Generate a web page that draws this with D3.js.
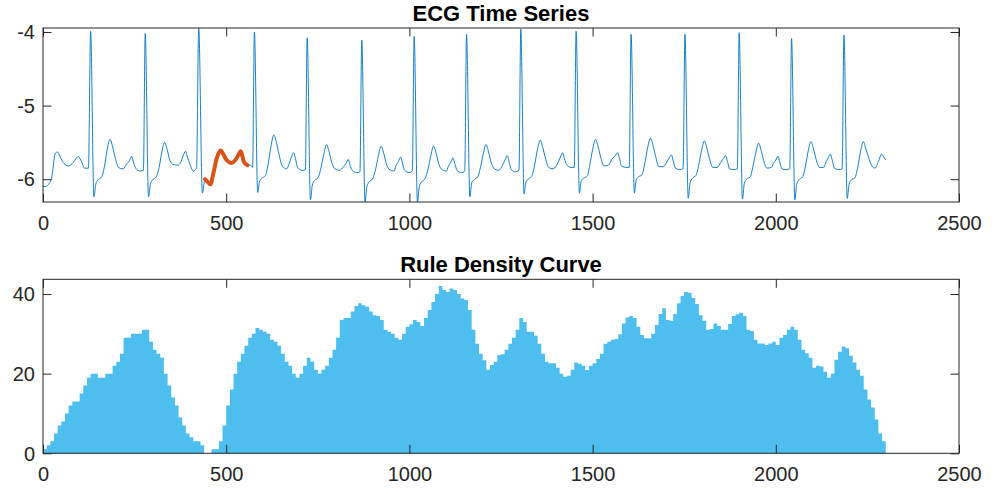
<!DOCTYPE html>
<html>
<head>
<meta charset="utf-8">
<script src="https://cdn.jsdelivr.net/npm/d3@7"></script>
<style>
body { margin: 0; background: #fff; }
svg text { font-family: "Liberation Sans", Arial, Helvetica, sans-serif; }
</style>
</head>
<body>
<div id="chart"></div>
<script>
// ECG knots (sample index, value)
var ecgX = [
    0, 8, 15, 24, 33, 39, 45, 51, 60, 69, 83, 90, 96, 101, 106, 113, 124,
    130, 139, 144, 150, 160, 168, 175, 183, 190, 197, 206, 218, 229, 236, 242, 247, 253, 265, 274,
    279, 288, 293, 299, 309, 317, 324, 332, 339, 346, 355, 367, 375, 382, 389, 394, 400, 410, 419,
    425, 435, 442, 450, 457, 465, 474, 485, 493, 501, 515, 528, 540, 548, 558, 567, 572,
    577, 586, 591, 597, 607, 615, 622, 630, 637, 644, 653, 665, 671, 678, 684, 689, 695, 707, 716,
    721, 730, 735, 741, 751, 759, 766, 774, 781, 788, 797, 809, 820, 827, 833, 838, 844, 856, 865,
    870, 879, 884, 890, 900, 908, 915, 923, 930, 937, 946, 958, 963, 970, 976, 981, 987, 999, 1008,
    1013, 1022, 1027, 1033, 1043, 1051, 1058, 1066, 1073, 1080, 1089, 1101, 1106, 1113, 1119, 1124, 1130, 1142, 1151,
    1156, 1165, 1170, 1176, 1186, 1194, 1201, 1209, 1216, 1223, 1232, 1244, 1254, 1261, 1267, 1272, 1278, 1290, 1299,
    1304, 1313, 1318, 1324, 1334, 1342, 1349, 1357, 1364, 1371, 1380, 1392, 1405, 1412, 1418, 1423, 1429, 1441, 1450,
    1455, 1464, 1469, 1475, 1485, 1493, 1500, 1508, 1515, 1522, 1531, 1543, 1555, 1562, 1568, 1573, 1579, 1591, 1600,
    1605, 1614, 1619, 1625, 1635, 1643, 1650, 1658, 1665, 1672, 1681, 1693, 1702, 1709, 1715, 1720, 1726, 1738, 1747,
    1752, 1761, 1766, 1772, 1782, 1790, 1797, 1805, 1812, 1819, 1828, 1840, 1850, 1857, 1863, 1868, 1874, 1886, 1895,
    1900, 1909, 1914, 1920, 1930, 1938, 1945, 1953, 1960, 1967, 1976, 1988, 1993, 2000, 2006, 2011, 2017, 2029, 2038,
    2043, 2052, 2057, 2063, 2073, 2081, 2088, 2096, 2103, 2110, 2119, 2131, 2136, 2143, 2149, 2154, 2160, 2172, 2181,
    2186, 2195, 2200, 2206, 2216, 2224, 2231, 2239, 2246, 2253, 2262, 2271, 2280, 2289, 2295, 2300
];
var ecgY = [
    -6.10, -6.10, -6.07, -5.97, -5.66, -5.63, -5.67, -5.74, -5.80, -5.82, -5.77, -5.72, -5.69, -5.72, -5.77, -5.85, -5.85,
    -3.99, -6.24, -6.07, -6.01, -5.97, -5.82, -5.60, -5.46, -5.56, -5.71, -5.84, -5.86, -5.79, -5.75, -5.69, -5.77, -5.85, -5.89, -5.88,
    -4.02, -6.24, -6.07, -6.01, -5.97, -5.84, -5.64, -5.50, -5.60, -5.74, -5.80, -5.81, -5.78, -5.69, -5.62, -5.70, -5.78, -5.89, -5.85,
    -3.946, -6.19, -6.00, -6.04, -6.07, -5.92, -5.72, -5.61, -5.67, -5.74, -5.78, -5.72, -5.62, -5.76, -5.81, -5.81, -5.84,
    -4.00, -6.18, -6.03, -5.99, -5.95, -5.78, -5.56, -5.40, -5.50, -5.66, -5.82, -5.86, -5.80, -5.70, -5.64, -5.72, -5.84, -5.88, -5.87,
    -4.08, -6.28, -6.08, -6.02, -5.98, -5.84, -5.67, -5.53, -5.63, -5.77, -5.86, -5.88, -5.83, -5.79, -5.73, -5.81, -5.88, -5.91, -5.90,
    -4.11, -6.31, -6.10, -6.04, -5.99, -5.86, -5.69, -5.55, -5.65, -5.79, -5.87, -5.89, -5.82, -5.76, -5.70, -5.78, -5.88, -5.91, -5.89,
    -4.06, -6.31, -6.10, -6.04, -5.99, -5.86, -5.69, -5.55, -5.65, -5.79, -5.87, -5.89, -5.83, -5.77, -5.71, -5.79, -5.88, -5.91, -5.89,
    -4.03, -6.24, -6.05, -6.01, -5.97, -5.84, -5.67, -5.53, -5.63, -5.77, -5.86, -5.88, -5.81, -5.74, -5.68, -5.76, -5.87, -5.90, -5.88,
    -3.96, -6.20, -6.04, -6.00, -5.96, -5.80, -5.61, -5.47, -5.57, -5.71, -5.84, -5.86, -5.78, -5.70, -5.64, -5.72, -5.80, -5.84, -5.84,
    -3.99, -6.19, -6.02, -5.99, -5.96, -5.79, -5.60, -5.46, -5.56, -5.70, -5.82, -5.81, -5.71, -5.68, -5.64, -5.71, -5.82, -5.84, -5.84,
    -4.03, -6.19, -6.01, -5.97, -5.94, -5.77, -5.58, -5.44, -5.54, -5.69, -5.83, -5.83, -5.77, -5.71, -5.67, -5.75, -5.85, -5.87, -5.86,
    -4.03, -6.26, -6.05, -5.99, -5.95, -5.80, -5.62, -5.48, -5.58, -5.72, -5.84, -5.84, -5.77, -5.72, -5.68, -5.76, -5.86, -5.87, -5.86,
    -4.01, -6.27, -6.06, -6.00, -5.97, -5.82, -5.65, -5.51, -5.61, -5.75, -5.85, -5.84, -5.79, -5.74, -5.69, -5.77, -5.86, -5.87, -5.86,
    -4.09, -6.28, -6.07, -6.01, -5.97, -5.82, -5.63, -5.49, -5.59, -5.73, -5.84, -5.84, -5.78, -5.71, -5.66, -5.74, -5.85, -5.87, -5.86,
    -4.04, -6.26, -6.07, -6.01, -5.98, -5.83, -5.63, -5.49, -5.59, -5.70, -5.82, -5.85, -5.76, -5.66, -5.70, -5.74
];
// highlighted motif (sample range)
var motifStart = 442, motifEnd = 558;

// rule density, one value per 10 samples
var densityStep = 10;
var densityEnd = 2300;
var density = [
    1, 2, 3, 5, 7, 8, 10, 12, 13, 13,
    15, 17, 19, 20, 20, 19, 19, 20, 20, 22,
    23, 25, 29, 29, 30, 30, 30, 31, 31, 28,
    26, 25, 24, 20, 17, 14, 12, 9, 7, 5,
    4, 3, 3, 2, 0, 0, 1, 1, 3, 7,
    12, 16, 20, 23, 25, 27, 29, 30, 31.5, 31,
    30.5, 30, 28.5, 28, 27, 25, 23, 22, 20, 19,
    20, 22, 24, 23, 21, 20, 21, 22, 24, 26,
    29, 33.5, 34, 34, 35.6, 37, 37.7, 37.2, 36.8, 35.6,
    34.7, 34.5, 33.5, 31, 30.5, 30, 29, 28.5, 30, 31.8,
    32.4, 33.5, 33, 32, 34, 36, 38, 40, 42, 41,
    40.5, 41.4, 41, 40, 38.9, 38.5, 36, 31, 27.5, 25,
    23.4, 21, 22.2, 23, 24.7, 24.9, 26, 27.5, 29, 31,
    34, 33, 30.5, 30.5, 29.5, 27.5, 25, 23, 22.6, 22.6,
    21.5, 20, 19.2, 19.5, 21, 22.8, 22.5, 22, 20.9, 22,
    22.6, 23.7, 25, 27.5, 28, 28.5, 28.7, 29.9, 32.6, 34.1,
    34.5, 34, 31.8, 29.7, 28.9, 28.9, 30, 32.2, 35, 36.4,
    33.5, 33.3, 35, 37.7, 39.5, 40.5, 40.3, 39, 37.5, 34.7,
    33.3, 31, 31.2, 32.6, 32, 31, 31, 32.5, 34.5, 34.9,
    35.3, 34.5, 31, 30.7, 28.5, 27.6, 27.6, 27.2, 27.6, 28,
    27.2, 29, 29.7, 31, 31.8, 31, 28.5, 26, 25.1, 24,
    21.5, 22, 21.8, 20.5, 19, 20, 23.5, 25.5, 26.8, 26.4,
    24.5, 22.8, 21, 19.5, 16, 13.5, 11.5, 8.5, 5, 3
];

var xTicks = [0, 500, 1000, 1500, 2000, 2500];
var ecgTicks = [-6, -5, -4];
var densityTicks = [0, 20, 40];

var W = 997, H = 493;
var axL = 43, axW = 916, axH = 174;
var topY = 28, botY = 279.3;
var tickLen = 8.5;
var axisColor = "#262626";
// plain hyphen-minus like the original
var fmt = function (d) { return String(d); };

var svg = d3.select("#chart").append("svg")
    .attr("width", W)
    .attr("height", H);

var x = d3.scaleLinear().domain([0, 2500]).range([0, axW]);

function drawAxes(g, y, yTicks, title) {
    // bottom axis with labels
    var bx = g.append("g")
        .attr("transform", "translate(0," + axH + ")")
        .call(d3.axisBottom(x).tickValues(xTicks).tickFormat(fmt)
            .tickSizeInner(-tickLen).tickSizeOuter(0).tickPadding(13.8));
    // top mirror ticks
    var tx = g.append("g")
        .call(d3.axisTop(x).tickValues(xTicks).tickSizeInner(-tickLen).tickSizeOuter(0).tickFormat(""));
    var ly = g.append("g")
        .call(d3.axisLeft(y).tickValues(yTicks).tickFormat(fmt)
            .tickSizeInner(-tickLen).tickSizeOuter(0).tickPadding(8));
    var ry = g.append("g")
        .attr("transform", "translate(" + axW + ",0)")
        .call(d3.axisRight(y).tickValues(yTicks).tickSizeInner(-tickLen).tickSizeOuter(0).tickFormat(""));

    [bx, tx, ly, ry].forEach(function (a) {
        a.select(".domain").remove();
        a.selectAll("line").attr("stroke", axisColor);
        a.selectAll("text")
            .attr("fill", axisColor)
            .attr("font-size", 20)
            .attr("font-family", "'Liberation Sans', Arial, Helvetica, sans-serif");
    });
    ly.selectAll("text").attr("dy", "0.34em");

    g.append("rect")
        .attr("x", 0)
        .attr("y", 0)
        .attr("width", axW)
        .attr("height", axH)
        .attr("fill", "none")
        .attr("stroke", axisColor)
        .attr("stroke-width", 1);

    g.append("text")
        .attr("x", axW / 2)
        .attr("y", -7.5)
        .attr("text-anchor", "middle")
        .attr("font-size", 22)
        .attr("font-weight", "bold")
        .attr("fill", "#000")
        .text(title);
}

// ---------- ECG panel ----------
var g1 = svg.append("g").attr("transform", "translate(" + axL + "," + topY + ")");
var y1 = d3.scaleLinear().domain(d3.extent(ecgY)).range([axH, 0]);

var ecgPts = ecgX.map(function (d, i) { return [d, ecgY[i]]; });
var ecgLine = d3.line()
    .x(function (d) { return x(d[0]); })
    .y(function (d) { return y1(d[1]); })
    .curve(d3.curveMonotoneX);

g1.append("clipPath").attr("id", "clip1")
    .append("rect").attr("width", axW).attr("height", axH);

g1.append("path")
    .datum(ecgPts)
    .attr("clip-path", "url(#clip1)")
    .attr("fill", "none")
    .attr("stroke", "#0072BD")
    .attr("stroke-width", 0.9)
    .attr("stroke-linejoin", "round")
    .attr("d", ecgLine);

g1.append("path")
    .datum(ecgPts.filter(function (d) { return d[0] >= motifStart && d[0] <= motifEnd; }))
    .attr("fill", "none")
    .attr("stroke", "#D95319")
    .attr("stroke-width", 4)
    .attr("stroke-linejoin", "round")
    .attr("stroke-linecap", "round")
    .attr("d", ecgLine);

drawAxes(g1, y1, ecgTicks, "ECG Time Series");

// ---------- Density panel ----------
var g2 = svg.append("g").attr("transform", "translate(" + axL + "," + botY + ")");
var y2 = d3.scaleLinear().domain([0, 43.7]).range([axH, 0]);

var densPts = density.map(function (v, i) { return [i * densityStep, v]; });
densPts.push([densityEnd, density[density.length - 1]]);

var densArea = d3.area()
    .x(function (d) { return x(d[0]); })
    .y0(y2(0))
    .y1(function (d) { return y2(d[1]); })
    .curve(d3.curveStepAfter);

g2.append("path")
    .datum(densPts)
    .attr("fill", "#4DBEEE")
    .attr("d", densArea);

drawAxes(g2, y2, densityTicks, "Rule Density Curve");
</script>
</body>
</html>
